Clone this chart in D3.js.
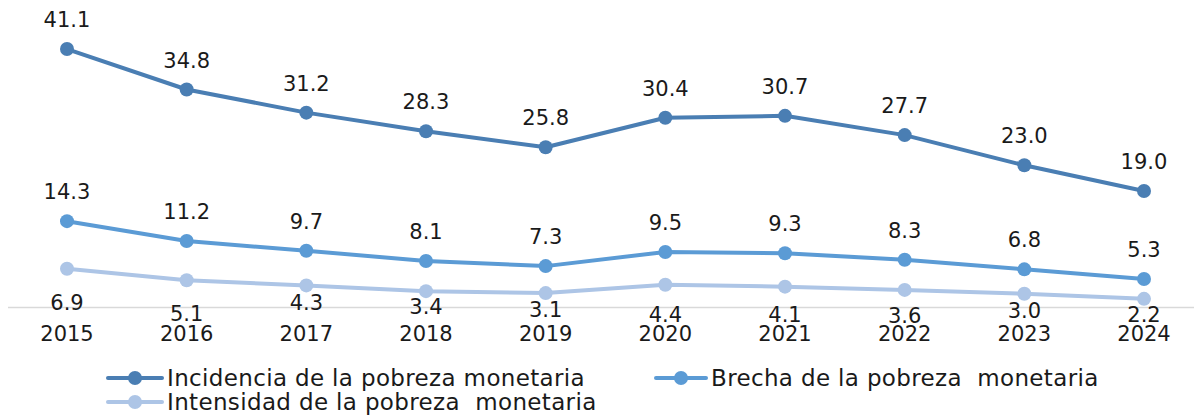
<!DOCTYPE html>
<html>
<head>
<meta charset="utf-8">
<script src="https://cdn.jsdelivr.net/npm/d3@7"></script>
<style>
  html, body { margin: 0; padding: 0; background: #fff; }
  svg { display: block; font-family: "DejaVu Sans", sans-serif; }
  text { white-space: pre; }
</style>
</head>
<body>
<svg id="chart"></svg>
<script>
const years = ['2015', '2016', '2017', '2018', '2019', '2020', '2021', '2022', '2023', '2024']
const incidencia = [41.1, 34.8, 31.2, 28.3, 25.8, 30.4, 30.7, 27.7, 23.0, 19.0]
const brecha = [14.3, 11.2, 9.7, 8.1, 7.3, 9.5, 9.3, 8.3, 6.8, 5.3]
const intensidad = [6.9, 5.1, 4.3, 3.4, 3.1, 4.4, 4.1, 3.6, 3.0, 2.2]
const seriesNames = [
  'Incidencia de la pobreza monetaria',
  'Brecha de la pobreza  monetaria',
  'Intensidad de la pobreza  monetaria',
]

const width = 1202
const height = 418

// the "below" labels were nudged by hand in the original, so keep their offsets
const belowDy = [41, 41, 25, 23, 24, 37, 35, 33, 24, 23]

const series = [
  { name: seriesNames[0], values: incidencia, color: '#4a7eb3', dy: () => -22 },
  { name: seriesNames[1], values: brecha, color: '#5b9bd5', dy: () => -22 },
  { name: seriesNames[2], values: intensidad, color: '#adc5e6', dy: (i) => belowDy[i] },
]

const svg = d3.select('#chart')
  .attr('width', width)
  .attr('height', height)
  .attr('viewBox', `0,0,${width},${height}`)

const x = d3.scalePoint()
  .domain(years)
  .range([67, 1144])

const y = d3.scaleLinear()
  .domain([0, 45])
  .range([313, 24])

// baseline
svg.append('line')
  .attr('x1', 8)
  .attr('x2', 1194)
  .attr('y1', Math.round(y(1)) + 0.5)
  .attr('y2', Math.round(y(1)) + 0.5)
  .attr('stroke', '#d9d9d9')
  .attr('stroke-width', 1.5)

// year labels
svg.append('g')
  .selectAll('text')
  .data(years)
  .join('text')
  .attr('x', (d) => x(d))
  .attr('y', 341)
  .attr('text-anchor', 'middle')
  .attr('font-size', 21)
  .attr('fill', '#1a1a1a')
  .text((d) => d)

const line = d3.line()
  .x((d, i) => x(years[i]))
  .y((d) => y(d))

series.forEach((s) => {
  const g = svg.append('g')
  g.append('path')
    .datum(s.values)
    .attr('d', line)
    .attr('fill', 'none')
    .attr('stroke', s.color)
    .attr('stroke-width', 4)
    .attr('stroke-linejoin', 'round')

  g.selectAll('circle')
    .data(s.values)
    .join('circle')
    .attr('cx', (d, i) => x(years[i]))
    .attr('cy', (d) => y(d))
    .attr('r', 7)
    .attr('fill', s.color)

  g.selectAll('text')
    .data(s.values)
    .join('text')
    .attr('x', (d, i) => x(years[i]))
    .attr('y', (d, i) => y(d) + s.dy(i))
    .attr('text-anchor', 'middle')
    .attr('font-size', 21)
    .attr('fill', '#1a1a1a')
    .text((d) => d.toFixed(1))
})

// legend
const legendItems = [
  { s: series[0], x: 108, y: 378, w: 54 },
  { s: series[1], x: 656, y: 378, w: 50 },
  { s: series[2], x: 108, y: 402, w: 54 },
]
const lg = svg.append('g')
legendItems.forEach((it) => {
  lg.append('line')
    .attr('x1', it.x)
    .attr('x2', it.x + it.w)
    .attr('y1', it.y)
    .attr('y2', it.y)
    .attr('stroke', it.s.color)
    .attr('stroke-width', 4)
    .attr('stroke-linecap', 'round')
  lg.append('circle')
    .attr('cx', it.x + it.w / 2)
    .attr('cy', it.y)
    .attr('r', 7)
    .attr('fill', it.s.color)
  lg.append('text')
    .attr('x', it.x + it.w + 5)
    .attr('y', it.y + 8)
    .attr('font-size', 23)
    .attr('letter-spacing', 0.35)
    .attr('fill', '#1a1a1a')
    .text(it.s.name)
})
</script>
</body>
</html>
